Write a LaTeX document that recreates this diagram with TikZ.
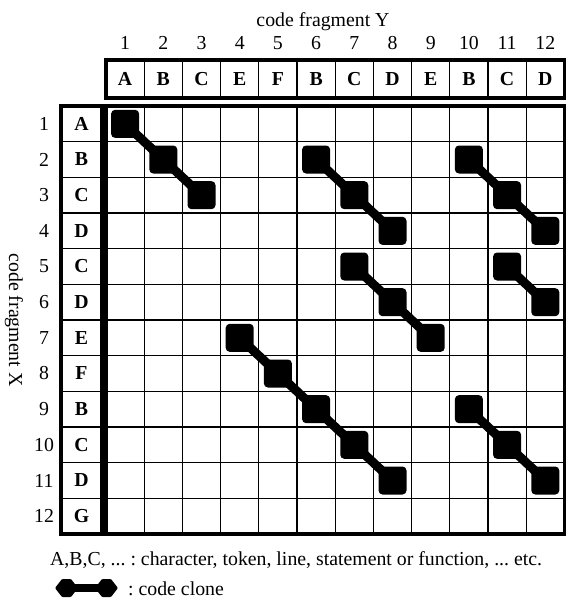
\documentclass[tikz,border=0pt]{standalone}
\usepackage{fontspec}
\setmainfont{Liberation Serif}
\frenchspacing
\begin{document}
\begin{tikzpicture}[x=1pt,y=-1pt,
  txt/.style={font=\fontsize{19.8}{23}\selectfont, inner sep=0pt},
  letter/.style={font=\fontsize{19.8}{23}\selectfont\bfseries, inner sep=0pt},
  thickline/.style={line width=3.5pt},
  thinline/.style={line width=1.3pt},
  clone/.style={rectangle, fill=black, rounded corners=4pt, minimum width=28pt, minimum height=28pt, inner sep=0pt},
  link/.style={line width=9pt},
  legendhex/.style={fill=black, rounded corners=1pt}]
\useasboundingbox (0,0) rectangle (566,599);
\def\cw{38.2}
\def\rh{35.667}
% title
\node[txt] (ylab) at (323,22) {code fragment Y};
\node[txt, rotate=-90] (xlab) at (14,320) {code fragment X};
% column numbers and header letters
\foreach \c/\l in {1/A,2/B,3/C,4/E,5/F,6/B,7/C,8/D,9/E,10/B,11/C,12/D}{
  \node[txt] (cn\c) at ({106+\cw*(\c-0.5)},43) {\c};
  \node[letter] (h\c) at ({106+\cw*(\c-0.5)},79) {\l};
}
% row numbers and row letters
\foreach \r/\l in {1/A,2/B,3/C,4/D,5/C,6/D,7/E,8/F,9/B,10/C,11/D,12/G}{
  \node[txt] (rn\r) at (44,{106+\rh*(\r-0.5)}) {\r};
  \node[letter] (v\r) at (81.5,{106+\rh*(\r-0.5)}) {\l};
}
% header row
\foreach \i in {1,...,11}
  \draw[thinline] ({106+\cw*\i},60) -- ({106+\cw*\i},98);
\draw[thickline] (106,60) rectangle (564.5,98);
% label column
\foreach \i in {1,...,11}
  \draw[thinline] (61,{106+\rh*\i}) -- (102,{106+\rh*\i});
\draw[thickline] (61,106) rectangle (102,534);
% main grid
\foreach \i in {1,...,11}{
  \draw[thinline] ({106+\cw*\i},106) -- ({106+\cw*\i},534);
  \draw[thinline] (106,{106+\rh*\i}) -- (564.5,{106+\rh*\i});
}
\draw[thickline] (106,106) rectangle (564.5,534);
% clone cells
\foreach \r/\c in {1/1,2/2,3/3,2/6,3/7,4/8,2/10,3/11,4/12,5/7,6/8,7/9,5/11,6/12,7/4,8/5,9/6,10/7,11/8,9/10,10/11,11/12}
  \node[clone] (s\r-\c) at ({106+\cw*(\c-0.5)},{106+\rh*(\r-0.5)}) {};
\foreach \a/\b in {1-1/2-2,2-2/3-3,2-6/3-7,3-7/4-8,2-10/3-11,3-11/4-12,5-7/6-8,6-8/7-9,5-11/6-12,7-4/8-5,8-5/9-6,9-6/10-7,10-7/11-8,9-10/10-11,10-11/11-12}
  \draw[link] (s\a.center) -- (s\b.center);
% legend
\node[txt, anchor=base west] (leg1) at (50,565) {A,B,C, ... : character, token, line, statement or function, ... etc.};
\fill[legendhex] (55,588) -- (62,579) -- (71,579) -- (78,588) -- (71,597) -- (62,597) -- cycle;
\fill[legendhex] (95,588) -- (102,579) -- (111,579) -- (118,588) -- (111,597) -- (102,597) -- cycle;
\draw[line width=8pt] (75,588) -- (98,588);
\node[txt, anchor=base west] (leg2) at (128,595) {: code clone};
\end{tikzpicture}
\end{document}
